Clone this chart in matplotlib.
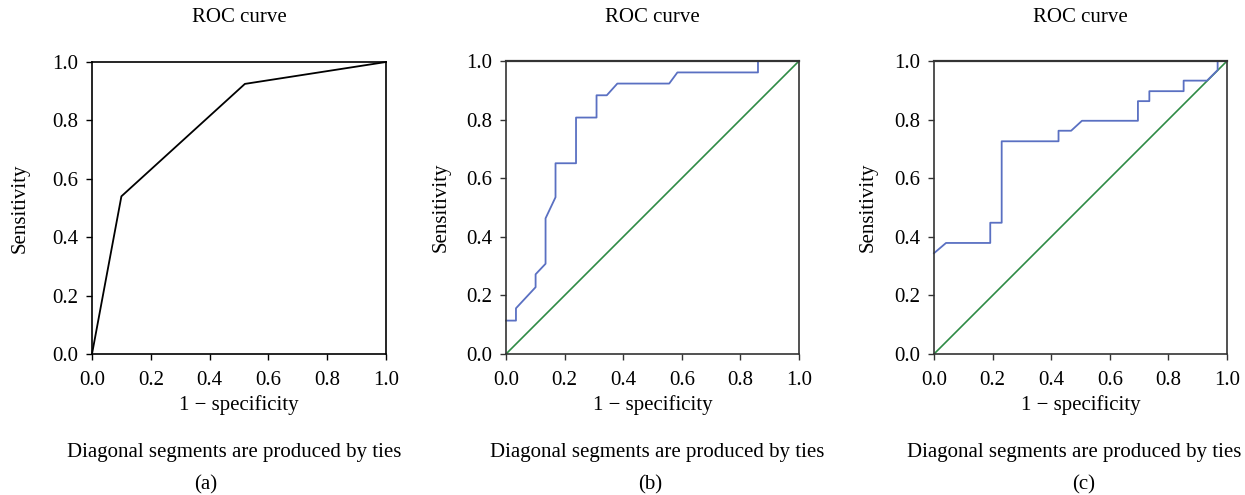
import matplotlib
matplotlib.use('Agg')
import matplotlib.pyplot as plt

plt.rcParams['font.family'] = ['Liberation Serif', 'DejaVu Serif']

# panel (a) ROC points
a_fpr = [0.0, 0.10, 0.52, 1.0]
a_tpr = [0.0, 0.54, 0.925, 1.0]

# panel (b) ROC steps
b_fpr = [0.0, 0.034, 0.034, 0.101, 0.101, 0.135, 0.135, 0.169, 0.169, 0.239, 0.239,
         0.309, 0.309, 0.344, 0.380, 0.557, 0.585, 0.860, 0.860, 1.0]
b_tpr = [0.114, 0.114, 0.156, 0.228, 0.272, 0.308, 0.463, 0.535, 0.651, 0.651, 0.807,
         0.807, 0.883, 0.883, 0.923, 0.923, 0.961, 0.961, 1.0, 1.0]

# panel (c) ROC steps
c_fpr = [0.0, 0.041, 0.192, 0.192, 0.231, 0.231, 0.425, 0.425, 0.468, 0.505, 0.696,
         0.696, 0.735, 0.735, 0.852, 0.852, 0.932, 0.968, 0.968, 1.0]
c_tpr = [0.344, 0.379, 0.379, 0.448, 0.448, 0.726, 0.726, 0.762, 0.762, 0.796, 0.796,
         0.863, 0.863, 0.897, 0.897, 0.933, 0.933, 0.969, 1.0, 1.0]

ticks = [0.0, 0.2, 0.4, 0.6, 0.8, 1.0]
tick_labels = ['0.0', '0.2', '0.4', '0.6', '0.8', '1.0']
panel_tags = ['(a)', '(b)', '(c)']

W, H = 1245, 495
fig = plt.figure(figsize=(W / 100, H / 100), dpi=100)

# axes boxes in pixels: left, top, width, height
boxes = [(92, 62, 294, 292), (506, 61, 293, 293), (934, 61, 293, 293)]
# text x centres in pixels: note, tag, ylabel
note_x = [234, 657, 1074]
tag_x = [206, 650, 1084]
ylab_x = [20, 441, 868]

curves = [(a_fpr, a_tpr), (b_fpr, b_tpr), (c_fpr, c_tpr)]
FS = 15

for i, (l, t, w, h) in enumerate(boxes):
    ax = fig.add_axes([l / W, 1 - (t + h) / H, w / W, h / H])
    fpr, tpr = curves[i]
    if i == 0:
        ax.plot(fpr, tpr, color='black', lw=1.3, clip_on=False)
        spine_col = 'black'
    else:
        ax.plot([0, 1], [0, 1], color='#2e8b45', lw=1.2, clip_on=False)
        ax.plot(fpr, tpr, color='#5a70c2', lw=1.3, clip_on=False)
        spine_col = '#333333'
    ax.set_xlim(0, 1)
    ax.set_ylim(0, 1)
    ax.set_xticks(ticks)
    ax.set_xticklabels(tick_labels)
    ax.set_yticks(ticks)
    ax.set_yticklabels(tick_labels)
    ax.tick_params(direction='out', length=4, width=1, labelsize=FS,
                   color=spine_col)
    ax.tick_params(axis='x', pad=8)
    ax.tick_params(axis='y', pad=6)
    for s in ax.spines.values():
        s.set_color(spine_col)
        s.set_linewidth(1.2)
    ax.spines['top'].set_linewidth(1.6 if i > 0 else 1.2)

    cx = (l + w / 2) / W
    fig.text(cx, 1 - 18 / H, 'ROC curve', ha='center', va='center', fontsize=FS)
    fig.text(cx, 1 - 405 / H, '1 \u2212 specificity', ha='center', va='center', fontsize=FS)
    fig.text(note_x[i] / W, 1 - 452 / H, 'Diagonal segments are produced by ties',
             ha='center', va='center', fontsize=FS)
    fig.text(tag_x[i] / W, 1 - 485 / H, panel_tags[i], ha='center', va='center', fontsize=FS)
    fig.text(ylab_x[i] / W, 1 - (t + h / 2) / H, 'Sensitivity', rotation=90,
             ha='center', va='center', fontsize=FS)

fig.savefig('out.png', dpi=100)
